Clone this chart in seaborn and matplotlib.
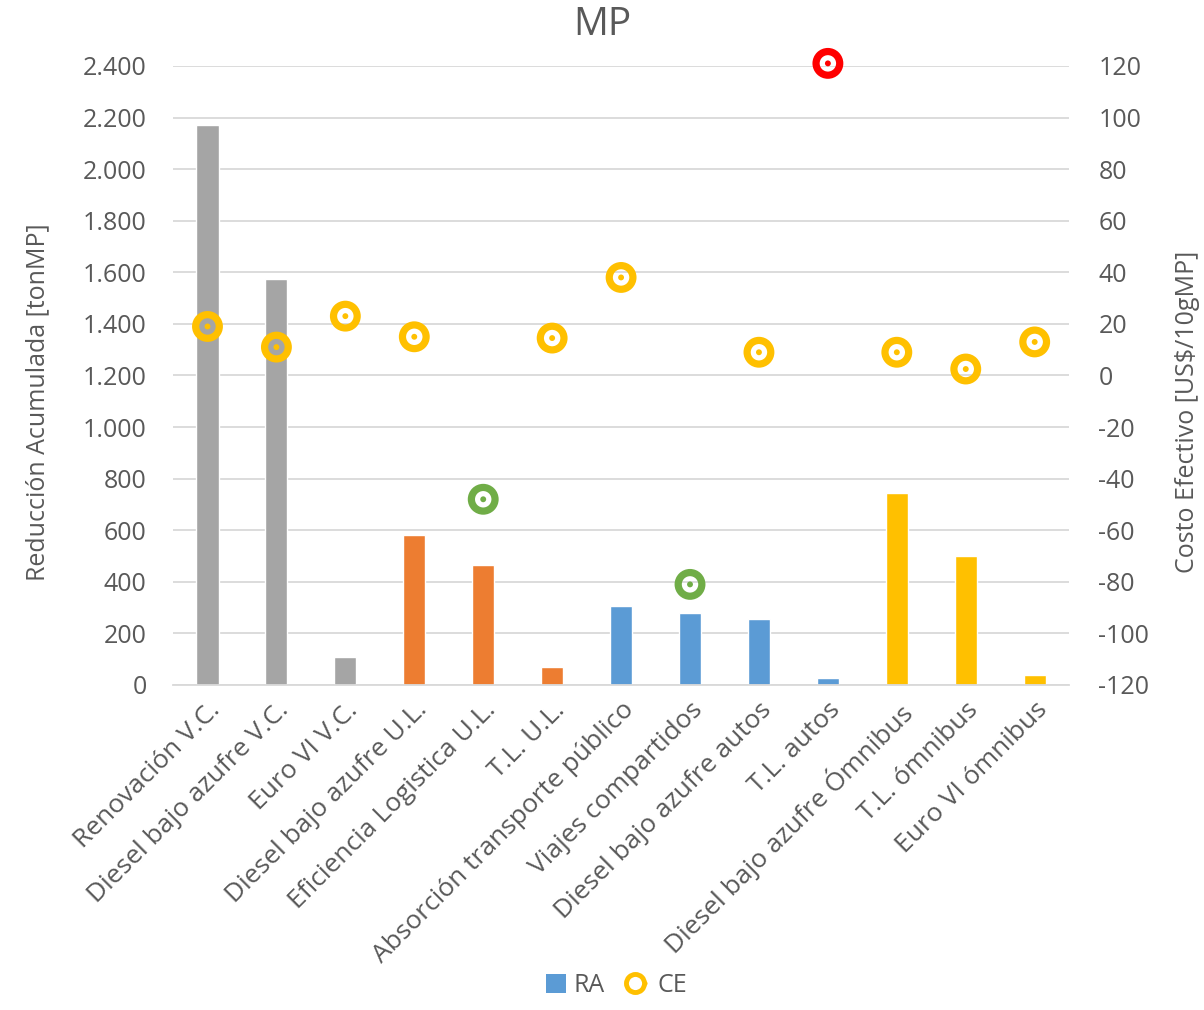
import numpy as np
import pandas as pd
import matplotlib
matplotlib.use("Agg")
import matplotlib.pyplot as plt
from matplotlib.ticker import FuncFormatter, FixedLocator
from matplotlib.lines import Line2D
from matplotlib.patches import Patch
from matplotlib.legend_handler import HandlerTuple
import seaborn as sns

# Measures and their data
categories = [
    "Renovación V.C.", "Diesel bajo azufre V.C.", "Euro VI V.C.",
    "Diesel bajo azufre U.L.", "Eficiencia Logistica U.L.", "T.L. U.L.",
    "Absorción transporte público", "Viajes compartidos", "Diesel bajo azufre autos",
    "T.L. autos", "Diesel bajo azufre Ómnibus", "T.L. ómnibus", "Euro VI ómnibus",
]
ra_values = [2170, 1575, 110, 580, 465, 70, 305, 280, 255, 27, 745, 500, 39]
ce_values = [19, 11, 23, 15, -48, 14.5, 38, -81, 9, 121, 9, 2.5, 13]
bar_colors = ["#A5A5A5", "#A5A5A5", "#A5A5A5",
              "#ED7D31", "#ED7D31", "#ED7D31",
              "#5B9BD5", "#5B9BD5", "#5B9BD5", "#5B9BD5",
              "#FFC000", "#FFC000", "#FFC000"]
ce_colors = ["#FFC000", "#FFC000", "#FFC000", "#FFC000", "#70AD47", "#FFC000",
             "#FFC000", "#70AD47", "#FFC000", "#FF0000", "#FFC000", "#FFC000", "#FFC000"]
left_ticks = list(range(0, 2401, 200))
right_ticks = list(range(-120, 121, 20))

sns.set_theme(style="white")
plt.rcParams["font.family"] = ["Open Sans", "DejaVu Sans"]
text_color = "#595959"
grid_color = "#D9D9D9"
fs = 18

df = pd.DataFrame({"medida": categories, "RA": ra_values, "CE": ce_values})

fig = plt.figure(figsize=(12.04, 10.10), dpi=100)
ax = fig.add_axes([0.1437, 0.3218, 0.888 - 0.1437, 0.9347 - 0.3218])

sns.barplot(data=df, x="medida", y="RA", hue="medida", palette=bar_colors,
            legend=False, width=0.32, saturation=1, ax=ax, zorder=2)
ax.set_ylim(0, 2400)
ax.set_xlim(-0.5, len(categories) - 0.5)
ax.yaxis.set_major_locator(FixedLocator(left_ticks))
ax.yaxis.set_major_formatter(FuncFormatter(lambda v, p: f"{int(v):,}".replace(",", ".")))
ax.grid(axis="y", color=grid_color, linewidth=1.3, zorder=0)
ax.set_axisbelow(True)
for s in ["top", "right", "left"]:
    ax.spines[s].set_visible(False)
ax.spines["bottom"].set_color(grid_color)
ax.spines["bottom"].set_linewidth(1.3)
ax.tick_params(axis="both", length=0, colors=text_color, labelsize=fs)
ax.tick_params(axis="y", pad=19)
ax.set_xticks(range(len(categories)))
ax.set_xticklabels(categories, rotation=45, ha="right", rotation_mode="anchor",
                   fontsize=19, color=text_color)
ax.tick_params(axis="x", pad=9)
ax.set_xlabel("")
ax.set_ylabel("Reducción Acumulada [tonMP]", fontsize=fs, color=text_color)
ax.yaxis.set_label_coords(-0.137, 0.457)

# Cost-effectiveness on the secondary axis
ax2 = ax.twinx()
ax2.set_ylim(-120, 120)
ax2.yaxis.set_major_locator(FixedLocator(right_ticks))
ax2.yaxis.set_major_formatter(FuncFormatter(lambda v, p: f"{int(v)}"))
for s in ax2.spines.values():
    s.set_visible(False)
ax2.tick_params(axis="y", length=0, colors=text_color, labelsize=fs, pad=21)
ax2.set_ylabel("Costo Efectivo [US$/10gMP]", fontsize=fs, color=text_color)
ax2.yaxis.set_label_coords(1.118, 0.441)

xpos = np.arange(len(categories))
sns.scatterplot(x=xpos, y=ce_values, ax=ax2, s=290, marker="o",
                facecolors="none", edgecolor=ce_colors, linewidth=5.2,
                legend=False, zorder=3, clip_on=False)
sns.scatterplot(x=xpos, y=ce_values, ax=ax2, s=18, marker="o",
                color=ce_colors, edgecolor="none", legend=False, zorder=4,
                clip_on=False)
ax2.set_xlim(-0.5, len(categories) - 0.5)

fig.text(0.5, 0.975, "MP", ha="center", va="center", fontsize=28, color=text_color)

# Legend
ra_handle = Patch(facecolor="#5B9BD5", edgecolor="none")
ring = Line2D([], [], marker="o", linestyle="none", markersize=13,
              markerfacecolor="none", markeredgecolor="#FFC000", markeredgewidth=3.5)
dot = Line2D([], [], marker="o", linestyle="none", markersize=3,
             markerfacecolor="#FFC000", markeredgecolor="none")
fig.legend([ra_handle, (ring, dot)], ["RA", "CE"], loc="center",
           bbox_to_anchor=(0.512, 0.024), ncol=2, frameon=False, fontsize=fs,
           labelcolor=text_color, handlelength=0.8, handleheight=0.8,
           handletextpad=0.3, columnspacing=1.0,
           handler_map={tuple: HandlerTuple(ndivide=None, pad=0)})

fig.savefig("out.png", dpi=100, facecolor="white")
